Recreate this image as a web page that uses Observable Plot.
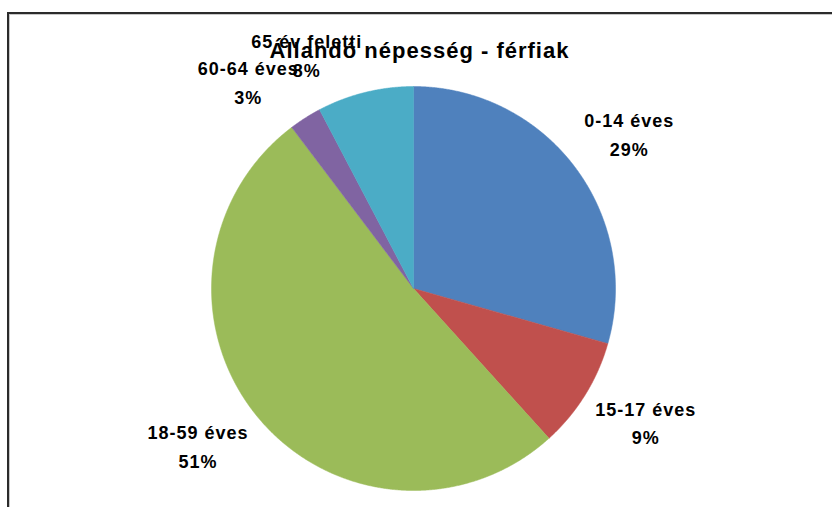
<!DOCTYPE html>
<html><head><meta charset="utf-8">
<script src="https://cdn.jsdelivr.net/npm/d3@7"></script>
<script src="https://cdn.jsdelivr.net/npm/@observablehq/plot@0.6"></script>
<style>
html,body{margin:0;padding:0;background:#fff;}
#wrap{position:relative;width:832px;height:507px;overflow:hidden;}
#border{position:absolute;left:7px;top:12px;width:900px;height:600px;border-top:2px solid #2b2b2b;border-left:2px solid #2b2b2b;box-shadow:inset 1px 1px 0 #c8c8c8;pointer-events:none;}
</style></head><body><div id="wrap"><div id="border"></div></div>
<script>
// ---- data ----
const categories = ["0-14 éves", "15-17 éves", "18-59 éves", "60-64 éves", "65 év feletti"];
const values = [29.4, 8.9, 51.4, 2.6, 7.7];
const percentLabels = ["29%", "9%", "51%", "3%", "8%"];
const colors = ["#4F81BD", "#C0504D", "#9BBB59", "#8064A2", "#4BACC6"];
const title = "Állandó népesség - férfiak";

// ---- layout ----
const W = 832, H = 507;
const R = 202;            // pixels per data unit (pie radius)
const cx = 413, cy = 288; // pie centre in pixels
const gap = 12;           // gap between pie edge and label box corner, px
const fontSize = 18, lineHeight = 1.6, spacing = 1;
const fontFamily = "'Liberation Sans', Arial, sans-serif";

const ctx = document.createElement("canvas").getContext("2d");
ctx.font = `bold ${fontSize}px ${fontFamily}`;
const textWidth = s => ctx.measureText(s).width + spacing * s.length;

const pie = d3.pie().sort(null).value(d => d.value);
const slices = pie(categories.map((c, i) => ({cat: c, value: values[i], pct: percentLabels[i]})));

const rows = [];
for (const s of slices) {
  rows.push({cat: s.data.cat, x: 0, y: 0});
  const n = Math.max(4, Math.ceil((s.endAngle - s.startAngle) / 0.005));
  for (let j = 0; j <= n; j++) {
    const a = s.startAngle + (s.endAngle - s.startAngle) * j / n;
    rows.push({cat: s.data.cat, x: Math.sin(a), y: Math.cos(a)});
  }
  rows.push({cat: s.data.cat, x: 0, y: 0});
}

// best-fit style: label box corner touches a point just outside the pie on the mid-angle ray
const boxH = fontSize * (lineHeight + 1);
const labels = slices.map(s => {
  const a = (s.startAngle + s.endAngle) / 2;
  const w = Math.max(textWidth(s.data.cat), textWidth(s.data.pct));
  const rr = (R + gap) / R;
  const sx = Math.sign(Math.sin(a)), sy = Math.sign(Math.cos(a));
  return {
    text: s.data.cat + "\n" + s.data.pct,
    x: rr * Math.sin(a) + sx * w / 2 / R,
    y: rr * Math.cos(a) + sy * boxH / 2 / R
  };
});

const chart = Plot.plot({
  width: W, height: H,
  margin: 0,
  style: {fontFamily, background: "transparent", letterSpacing: spacing + "px"},
  x: {domain: [-cx / R, (W - cx) / R], range: [0, W], axis: null},
  y: {domain: [-(H - cy) / R, cy / R], range: [H, 0], axis: null},
  color: {domain: categories, range: colors},
  marks: [
    Plot.line(rows, {x: "x", y: "y", z: "cat", fill: "cat", stroke: "cat", strokeWidth: 0.5, curve: "linear"}),
    Plot.text(labels, {x: "x", y: "y", text: "text", dy: -4, fontSize, fontWeight: "bold", lineHeight, fill: "#000", textAnchor: "middle", lineAnchor: "middle"}),
    Plot.text([title], {frameAnchor: "top", text: d => d, dx: 3, dy: 57, lineAnchor: "bottom", fontSize: 22, fontWeight: "bold", fill: "#000"})
  ]
});
document.getElementById("wrap").prepend(chart);
</script>
</body></html>
